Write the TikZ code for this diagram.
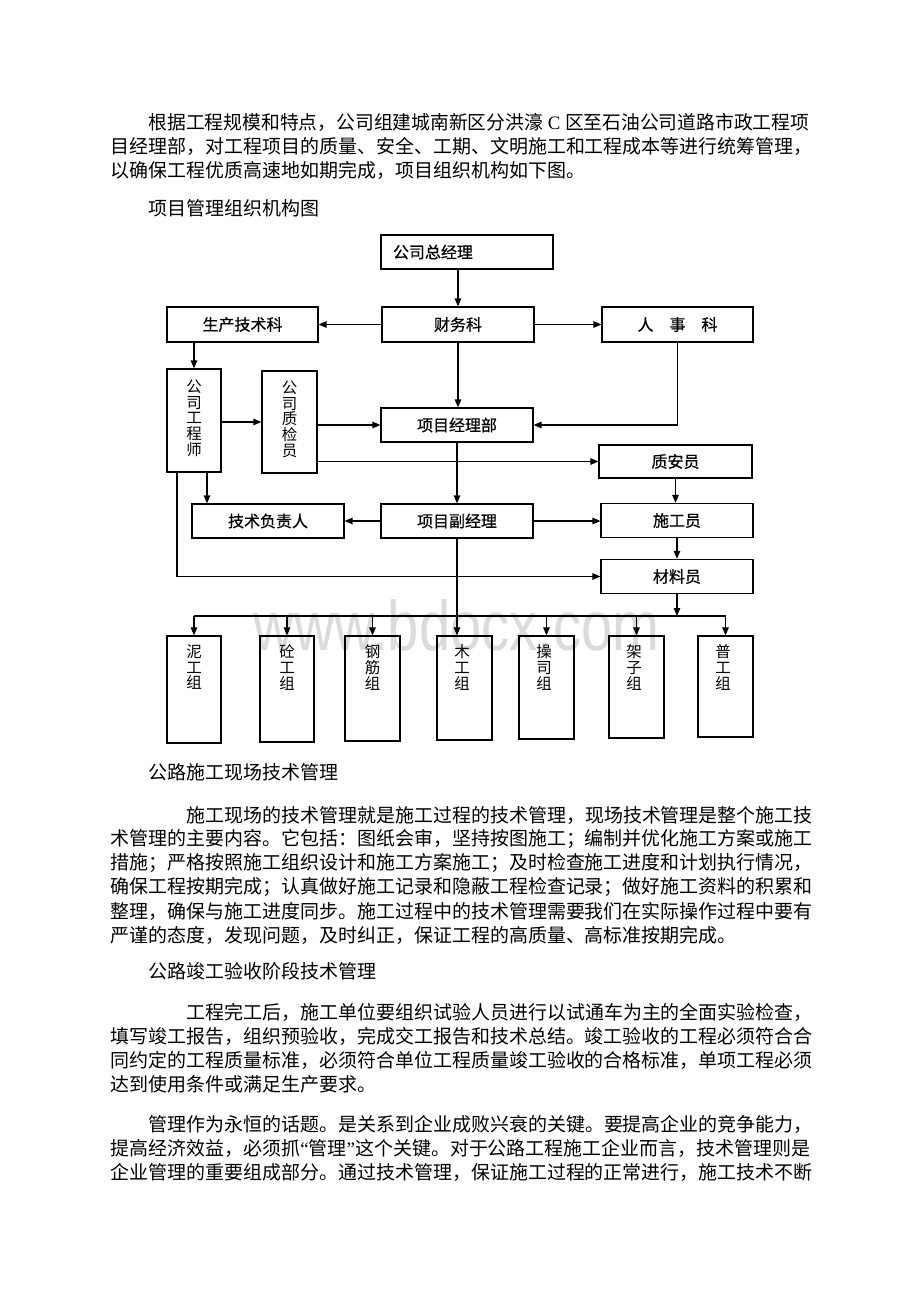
\documentclass[tikz,border=0pt]{standalone}
\usepackage{fontspec}
\newfontfamily\cjk{Noto Sans CJK SC}
\newfontfamily\cjkb[FakeBold=0.6]{Noto Sans CJK SC}
\newfontfamily\lat{Liberation Serif}
\newfontfamily\wmk{Liberation Sans}
\usetikzlibrary{arrows.meta}

\begin{document}
\begin{tikzpicture}[x=0.02cm, y=-0.02cm, line width=0.7pt,
  >={Triangle[length=0.16cm,width=0.13cm]},
  every node/.style={inner sep=0pt},
  txt/.style={anchor=west, font=\cjk\fontsize{10.8pt}{13pt}\selectfont},
  hbox/.style={draw, minimum width=3.04cm, minimum height=0.68cm, font=\cjkb\fontsize{9.1pt}{11pt}\selectfont},
  vbox/.style={draw, minimum width=1.1cm},
  vtxt/.style={anchor=north, align=center, font={\cjk\fontsize{8.8pt}{8.95pt}\selectfont\lineskiplimit=-10pt}}]
\fill[white] (0,0) rectangle (920,1302);
\useasboundingbox (0,0) rectangle (920,1302);

%watermark
\node[anchor=base west, text=black!14, font=\wmk\fontsize{32pt}{32pt}\selectfont] (wm) at (253,650) {\scalebox{1}[1.25]{www.bdocx.com}};

%text above
\node[txt] (p1a) at (148,122) {\scalebox{0.99}[1]{根据工程规模和特点，公司组建城南新区分洪濠{\lat\ C }区至石油公司道路市政工程项}};
\node[txt] (p1b) at (110,146) {目经理部，对工程项目的质量、安全、工期、文明施工和工程成本等进行统筹管理，};
\node[txt] (p1c) at (110,170) {以确保工程优质高速地如期完成，项目组织机构如下图。};
\node[txt] (title) at (148,208) {项目管理组织机构图};

%top
\node[hbox, minimum width=3.44cm, text width=2.96cm, align=left] (zjl) at (467,252) {公司总经理};
\node[hbox, minimum width=3.02cm, minimum height=0.7cm] (sckj) at (242.5,324.5) {生产技术科};
\node[hbox, minimum height=0.7cm] (cwk) at (458,324.5) {财务科};
\node[hbox, minimum width=3.02cm, minimum height=0.7cm] (rsk) at (677.5,324.5) {人\quad 事\quad 科};

%middle
\node[vbox, minimum width=1.08cm, minimum height=2.06cm] (gcs) at (194,420.5) {};
\node[vtxt] (gcsT) at (194,379) {公\\司\\工\\程\\师};
\node[vbox, minimum height=2.04cm] (zjy) at (289.5,422) {};
\node[vtxt] (zjyT) at (289.5,380) {公\\司\\质\\检\\员};
\node[hbox] (xmjlb) at (457,425) {项目经理部};
\node[hbox, minimum width=3.06cm, minimum height=0.66cm] (zay) at (675.5,461.5) {质安员};
\node[hbox] (jsfzr) at (268,521) {技术负责人};
\node[hbox] (fjl) at (457,521) {项目副经理};
\node[hbox] (sgy) at (677,520.5) {施工员};
\node[hbox] (cly) at (677,576.5) {材料员};

%groups
\node[vbox, minimum width=1.08cm, minimum height=2.14cm] (ni) at (194,689.5) {};
\node[vtxt] (niT) at (194,644) {泥\\工\\组};
\node[vbox, minimum width=1.08cm, minimum height=2.12cm] (tong) at (287,689) {};
\node[vtxt] (tongT) at (287,644) {砼\\工\\组};
\node[vbox, minimum height=2.10cm] (gang) at (372.5,688.5) {};
\node[vtxt] (gangT) at (372.5,644) {钢\\筋\\组};
\node[vbox, minimum height=2.08cm] (mu) at (464.5,688) {};
\node[vtxt] (muT) at (462,644) {木\\工\\组};
\node[vbox, minimum height=2.06cm] (cao) at (546.5,687.5) {};
\node[vtxt] (caoT) at (544,644) {操\\司\\组};
\node[vbox, minimum height=2.04cm] (jia) at (636.5,687) {};
\node[vtxt] (jiaT) at (634,644) {架\\子\\组};
\node[vbox, minimum height=2.02cm] (pu) at (725.5,686.5) {};
\node[vtxt] (puT) at (723,644) {普\\工\\组};

%arrows
\draw[->] (cwk.north |- zjl.south) -- (cwk.north);
\draw[->] (cwk.west) -- (sckj.east);
\draw[->] (cwk.east) -- (rsk.west);
\draw[->] (cwk.south) -- (cwk.south |- xmjlb.north);
\draw[->] (rsk.south) |- (xmjlb.east);
\draw[->] (sckj.south -| gcs.north) -- (gcs.north);
\draw[->] (gcs.east |- zjy.west) -- (zjy.west);
\draw[->] (zjy.east |- xmjlb.west) -- (xmjlb.west);
\draw[->] (zjy.east |- zay.west) -- (zay.west);
\draw[->] (xmjlb.south) -- (fjl.north);
\draw[->] (fjl.west) -- (jsfzr.east);
\draw[->] (fjl.east) -- (fjl.east -| sgy.west);
\draw[->] (zay.south) -- (zay.south |- sgy.north);
\draw[->] (sgy.south) -- (cly.north);
\draw[->] ([xshift=0.26cm]gcs.south) -- ([xshift=0.26cm]gcs.south |- jsfzr.north);
\draw[->] ([xshift=-0.34cm]gcs.south) |- (cly.west);

%bus
\coordinate (bus) at (0,616);
\draw (bus -| ni.north) -- (bus -| pu.north);
\draw[->] (cly.south) -- (cly.south |- bus);
\draw[->] (fjl.south) -- (fjl.south |- mu.north);
\draw[->] (bus -| ni.north) -- (ni.north);
\draw[->] (bus -| tong.north) -- (tong.north);
\draw[->] (bus -| gang.north) -- (gang.north);
\draw[->] (bus -| cao.north) -- (cao.north);
\draw[->] (bus -| jia.north) -- (jia.north);
\draw[->] (bus -| pu.north) -- (pu.north);

%text below
\node[txt] (h2) at (148,772) {公路施工现场技术管理};
\node[txt] (p2a) at (186,815) {施工现场的技术管理就是施工过程的技术管理，现场技术管理是整个施工技};
\node[txt] (p2b) at (110,839) {术管理的主要内容。它包括：图纸会审，坚持按图施工；编制并优化施工方案或施工};
\node[txt] (p2c) at (110,863) {措施；严格按照施工组织设计和施工方案施工；及时检查施工进度和计划执行情况，};
\node[txt] (p2d) at (110,887) {确保工程按期完成；认真做好施工记录和隐蔽工程检查记录；做好施工资料的积累和};
\node[txt] (p2e) at (110,911) {整理，确保与施工进度同步。施工过程中的技术管理需要我们在实际操作过程中要有};
\node[txt] (p2f) at (110,935) {严谨的态度，发现问题，及时纠正，保证工程的高质量、高标准按期完成。};
\node[txt] (h3) at (148,971) {公路竣工验收阶段技术管理};
\node[txt] (p3a) at (186,1012) {工程完工后，施工单位要组织试验人员进行以试通车为主的全面实验检查，};
\node[txt] (p3b) at (110,1036) {填写竣工报告，组织预验收，完成交工报告和技术总结。竣工验收的工程必须符合合};
\node[txt] (p3c) at (110,1060) {同约定的工程质量标准，必须符合单位工程质量竣工验收的合格标准，单项工程必须};
\node[txt] (p3d) at (110,1084) {达到使用条件或满足生产要求。};
\node[txt] (p4a) at (148,1124) {管理作为永恒的话题。是关系到企业成败兴衰的关键。要提高企业的竞争能力，};
\node[txt] (p4b) at (110,1148) {提高经济效益，必须抓{\lat “}管理{\lat ”}这个关键。对于公路工程施工企业而言，技术管理则是};
\node[txt] (p4c) at (110,1172) {企业管理的重要组成部分。通过技术管理，保证施工过程的正常进行，施工技术不断};
\end{tikzpicture}
\end{document}
